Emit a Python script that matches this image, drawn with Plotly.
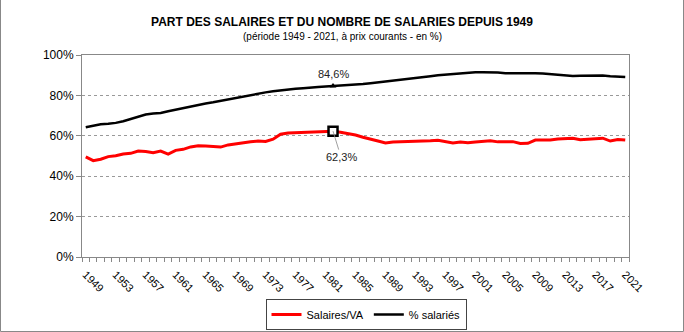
import plotly.graph_objects as go

years = list(range(1949, 2022))

salaires_va = [
    49.6, 47.7, 48.4, 49.7, 50.1, 51.0, 51.3, 52.5, 52.2, 51.6,
    52.4, 50.9, 52.8, 53.3, 54.5, 55.1, 54.9, 54.6, 54.4, 55.5,
    56.1, 56.6, 57.0, 57.4, 57.2, 58.3, 60.8, 61.4, 61.6, 61.7,
    61.8, 62.0, 62.1, 62.3, 61.8, 61.2, 60.4, 59.3, 58.5, 57.4,
    56.4, 56.9, 57.0, 57.1, 57.2, 57.1, 57.5, 57.8, 57.2, 56.4,
    56.9, 56.6, 56.9, 57.4, 57.6, 57.0, 57.1, 57.1, 56.2, 56.3,
    57.9, 57.9, 57.9, 58.4, 58.5, 58.8, 58.1, 58.3, 58.6, 58.8,
    57.4, 58.2, 57.9,
]

pct_salaries = [
    64.2, 65.0, 65.7, 66.0, 66.4, 67.2, 68.2, 69.4, 70.5, 71.0,
    71.3, 72.2, 73.0, 73.8, 74.6, 75.4, 76.0, 76.6, 77.3, 78.0,
    79.0, 79.6, 80.4, 81.0, 81.5, 82.0, 82.5, 83.0, 83.3, 83.6,
    84.0, 84.2, 84.4, 84.6, 84.8, 85.0, 85.3, 85.6, 86.0, 86.4,
    86.8, 87.2, 87.6, 88.2, 88.6, 89.1, 89.5, 90.0, 90.3, 90.6,
    90.9, 91.2, 91.4, 91.4, 91.4, 91.3, 91.0, 91.0, 91.3, 91.2,
    91.0, 90.8, 90.5, 90.0, 89.8, 89.6, 89.7, 89.8, 89.8, 89.8,
    89.5, 89.2, 89.1,
]

tick_years = list(range(1949, 2022, 4))
highlight_year = 1982

W, H = 684, 332
ML, MR, MT, MB = 82, 55, 55, 75
pw, ph = W - ML - MR, H - MT - MB

font = "Liberation Sans, Arial, sans-serif"

fig = go.Figure()
fig.add_trace(go.Scatter(x=years, y=salaires_va, mode="lines", name="Salaires/VA",
                         line=dict(color="#ff0000", width=3)))
fig.add_trace(go.Scatter(x=years, y=pct_salaries, mode="lines", name="% salariés",
                         line=dict(color="#000000", width=2.5)))

hi = years.index(highlight_year)
fig.add_trace(go.Scatter(x=[highlight_year], y=[salaires_va[hi]], mode="markers",
                         marker=dict(symbol="square", size=9, color="white",
                                     line=dict(color="black", width=2.5)),
                         showlegend=False, hoverinfo="skip"))
fig.add_trace(go.Scatter(x=[highlight_year], y=[pct_salaries[hi]], mode="markers",
                         marker=dict(symbol="triangle-up", size=6, color="black"),
                         showlegend=False, hoverinfo="skip"))

def fr(v):
    return f"{v:.1f}%".replace(".", ",")

fig.add_annotation(x=highlight_year, y=pct_salaries[hi], text=fr(pct_salaries[hi]),
                   showarrow=False, yshift=12, font=dict(family=font, size=11, color="#222"))
fig.add_annotation(x=highlight_year, y=salaires_va[hi], text=fr(salaires_va[hi]),
                   showarrow=True, arrowhead=0, arrowwidth=0.8, arrowcolor="#888",
                   ax=8, ay=26, font=dict(family=font, size=11, color="#222"))

# subtitle
fig.add_annotation(xref="paper", yref="paper", x=(342 - ML) / pw, y=(H - MB - 37) / ph,
                   text="(période 1949 - 2021, à prix courants - en %)", showarrow=False,
                   xanchor="center", yanchor="middle",
                   font=dict(family=font, size=10, color="#000"))

fig.add_shape(type="rect", xref="paper", yref="paper",
              x0=-(ML - 0.5) / pw, x1=(W - ML - 0.5) / pw,
              y0=-(MB - 0.5) / ph, y1=(H - MT - 0.5) / ph,
              line=dict(color="#888888", width=1))

fig.update_layout(
    width=W, height=H,
    margin=dict(l=ML, r=MR, t=MT, b=MB, autoexpand=False),
    paper_bgcolor="white", plot_bgcolor="white",
    font=dict(family=font, size=11, color="#000"),
    title=dict(
        text="<b>PART DES SALAIRES ET DU NOMBRE DE SALARIES DEPUIS 1949</b>",
        x=0.5, xanchor="center", xref="container", yref="container",
        y=1 - 22 / H, yanchor="middle",
        font=dict(family=font, size=12, color="#000"),
    ),
    showlegend=True,
    legend=dict(orientation="h", x=(366 - ML) / pw, xanchor="center",
                yref="paper", y=-(299 - (H - MB)) / ph, yanchor="top",
                bordercolor="#444", borderwidth=1, bgcolor="white",
                font=dict(family=font, size=11), itemwidth=30,
                tracegroupgap=0),
    xaxis=dict(range=[1948.5, 2021.5], tickmode="array", tickvals=tick_years,
               ticktext=[str(y) for y in tick_years], tickangle=45,
               ticks="", showgrid=False, showline=True, linecolor="#888",
               linewidth=1, mirror=True, zeroline=False, automargin=False,
               ticklabelstandoff=6,
               minor=dict(tickmode="linear", tick0=1948.5, dtick=1, ticks="outside",
                          ticklen=4, tickcolor="#888", showgrid=False),
               tickfont=dict(family=font, size=11)),
    yaxis=dict(range=[0, 100], dtick=20, ticksuffix="%", showgrid=True,
               gridcolor="#999", griddash="dot", gridwidth=1, automargin=False,
               showline=True, linecolor="#888", linewidth=1, mirror=True,
               ticks="outside", ticklen=5, tickcolor="#888", zeroline=False,
               tickfont=dict(family=font, size=12)),
)

fig.write_html("out.html")
